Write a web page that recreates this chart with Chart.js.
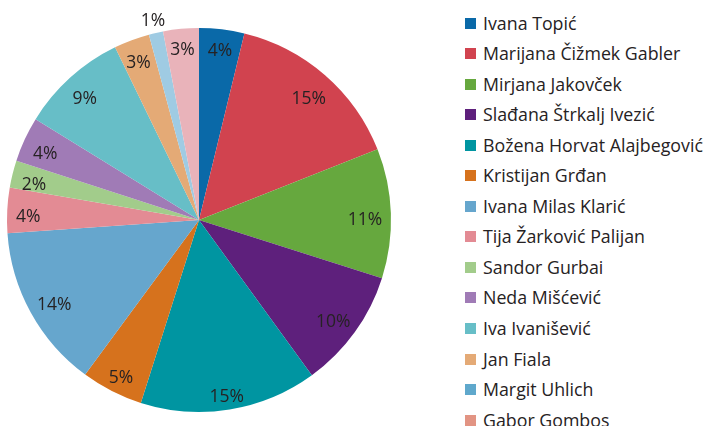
<!DOCTYPE html>
<html>
<head>
<meta charset="utf-8">
<script src="https://cdn.jsdelivr.net/npm/chart.js@4"></script>
<style>
  html, body { margin: 0; padding: 0; background: #ffffff; }
  #wrap { position: relative; width: 708px; height: 426px; overflow: hidden; }
  #pieBox { position: absolute; left: 0; top: 0; width: 398px; height: 426px; }
  #legend { position: absolute; left: 465px; top: 0; margin: 0; padding: 0; list-style: none;
            font-family: "Open Sans", "Noto Sans", sans-serif; font-size: 17.8px; color: #262223; }
  #legend li { position: absolute; left: 0; white-space: nowrap; height: 24px; line-height: 24px; }
  #legend .sw { position: absolute; left: 0; top: 7px; width: 11px; height: 11px; }
  #legend .tx { position: absolute; left: 18px; top: 0; }
</style>
</head>
<body>
<div id="wrap">
  <div id="pieBox"><canvas id="c"></canvas></div>
  <ul id="legend"></ul>
</div>
<script>
const names = ["Ivana Topić", "Marijana Čižmek Gabler", "Mirjana Jakovček", "Slađana Štrkalj Ivezić",
  "Božena Horvat Alajbegović", "Kristijan Grđan", "Ivana Milas Klarić", "Tija Žarković Palijan",
  "Sandor Gurbai", "Neda Mišćević", "Iva Ivanišević", "Jan Fiala", "Margit Uhlich", "Gabor Gombos"];
const shares = [3.8, 15.2, 10.9, 10.1, 14.9, 5.2, 13.8, 3.8, 2.3, 3.8, 9.0, 3.0, 1.2, 3.0];
const sliceColors = ["#0a69a8", "#d1434f", "#66a83e", "#5e207c", "#0095a1", "#d6721d", "#66a6cd",
  "#e38b94", "#a2cc8b", "#a07bb6", "#67bec7", "#e4aa76", "#9fcbe3", "#e9b3ba"];
const legendColors = ["#0a69a8", "#d1434f", "#66a83e", "#5e207c", "#0095a1", "#d6721d", "#66a6cd",
  "#e38b94", "#a2cc8b", "#a07bb6", "#67bec7", "#e4aa76", "#5fa8cc", "#e29483"];

// HTML legend
const legendEl = document.getElementById('legend');
names.forEach((n, i) => {
  const li = document.createElement('li');
  li.style.top = (22.5 + i * 30.55 - 12) + 'px';
  const sw = document.createElement('span');
  sw.className = 'sw';
  sw.style.background = legendColors[i];
  const tx = document.createElement('span');
  tx.className = 'tx';
  tx.textContent = n;
  li.appendChild(sw); li.appendChild(tx);
  legendEl.appendChild(li);
});

const pctLabels = {
  id: 'pctLabels',
  afterDatasetsDraw(chart) {
    const ctx = chart.ctx;
    const meta = chart.getDatasetMeta(0);
    const data = chart.data.datasets[0].data;
    ctx.save();
    ctx.font = '17.5px "Open Sans", "Noto Sans", sans-serif';
    ctx.fillStyle = '#262223';
    ctx.textAlign = 'center';
    ctx.textBaseline = 'alphabetic';
    const capH = 12.5;
    meta.data.forEach((arc, i) => {
      const p = arc.getProps(['x', 'y', 'startAngle', 'endAngle', 'outerRadius'], true);
      const mid = (p.startAngle + p.endAngle) / 2;
      const v = data[i];
      const txt = Math.round(v) + '%';
      const w = ctx.measureText(txt).width;
      const c = Math.cos(mid), s = Math.sin(mid);
      let d;
      if (v < 2) {
        d = p.outerRadius + 13;
      } else {
        d = p.outerRadius - 8.5 - (Math.abs(c) * w / 2 + Math.abs(s) * (capH + 1) / 2);
      }
      const dy = v < 2 ? 0 : 4;
      ctx.fillText(txt, p.x + c * d, p.y + s * d + capH / 2 + dy);
    });
    ctx.restore();
  }
};

new Chart(document.getElementById('c'), {
  type: 'pie',
  data: {
    labels: names,
    datasets: [{ data: shares, backgroundColor: sliceColors, borderWidth: 0 }]
  },
  options: {
    responsive: true,
    maintainAspectRatio: false,
    animation: false,
    layout: { padding: { left: 7, right: 7, top: 28, bottom: 14 } },
    plugins: { legend: { display: false }, tooltip: { enabled: false } }
  },
  plugins: [pctLabels]
});
</script>
</body>
</html>
